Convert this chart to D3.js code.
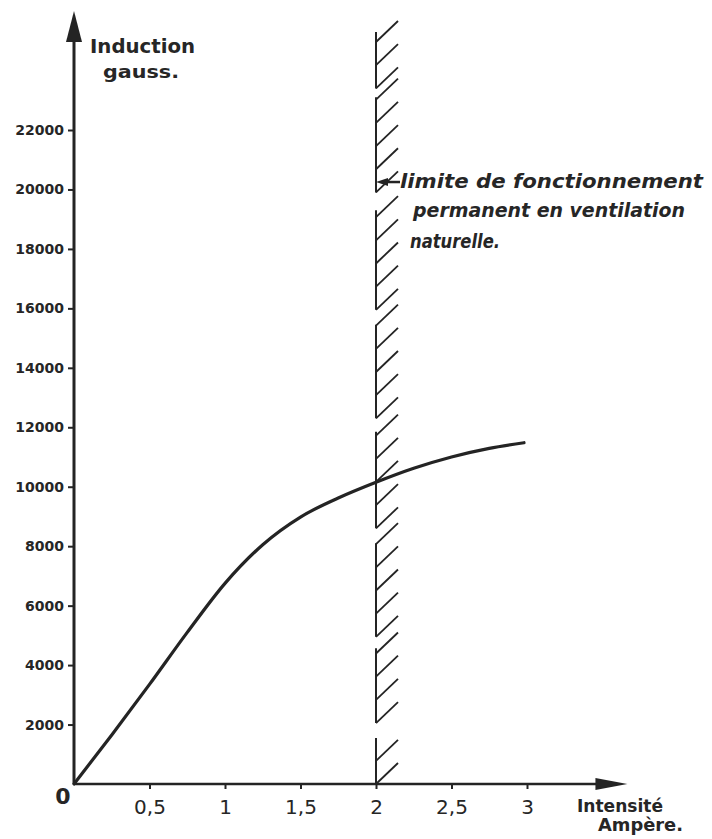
<!DOCTYPE html>
<html>
<head>
<meta charset="utf-8">
<script src="https://cdn.jsdelivr.net/npm/d3@7"></script>
<style>
  html, body { margin: 0; padding: 0; background: #fff; }
  svg { display: block; }
  text { fill: #262626; }
</style>
</head>
<body>
<div id="chart"></div>
<script>
// magnetisation curve: current (A) vs induction (gauss)
const currentA   = [0, 0.25, 0.5, 0.75, 1, 1.25, 1.5, 1.75, 2, 2.25, 2.5, 2.75, 2.98];
const inductionG = [0, 1650, 3350, 5100, 6750, 8050, 8980, 9620, 10150, 10620, 11000, 11290, 11480];

const xTicks = [0.5, 1, 1.5, 2, 2.5, 3];
const xTickLabels = ["0,5", "1", "1,5", "2", "2,5", "3"];
const yTicks = [2000, 4000, 6000, 8000, 10000, 12000, 14000, 16000, 18000, 20000, 22000];

// limit of continuous operation (natural ventilation)
const limitA = 2;
const limitSegments = [[0, 1550], [2050, 4570], [4950, 8100], [8600, 11850],
                       [12300, 15450], [15950, 19300], [19900, 23100], [23400, 25300]];
const limitArrowG = 20250;
const noteLines = ["limite de fonctionnement", "permanent en ventilation", "naturelle."];

const W = 712, H = 839;
const ink = "#242424";

const svg = d3.select("#chart").append("svg")
  .attr("width", W).attr("height", H)
  .attr("viewBox", `0 0 ${W} ${H}`);

const x = d3.scaleLinear().domain([0, 3]).range([74, 527]);
const y = d3.scaleLinear().domain([0, 22000]).range([784, 130]);

const x0 = x(0), y0 = y(0);
const yTop = y(26000), xEnd = x(3.665);

// axes lines with arrows
svg.append("line")
  .attr("x1", x0).attr("y1", y0).attr("x2", x0).attr("y2", yTop + 20)
  .attr("stroke", ink).attr("stroke-width", 3);
svg.append("path")
  .attr("d", `M${x0},${yTop} L${x0 - 8},${yTop + 31} L${x0 + 8},${yTop + 31} Z`)
  .attr("fill", ink);

svg.append("line")
  .attr("x1", x0).attr("y1", y0).attr("x2", xEnd - 20).attr("y2", y0)
  .attr("stroke", ink).attr("stroke-width", 2.5);
svg.append("path")
  .attr("d", `M${xEnd},${y0} L${xEnd - 32},${y0 - 6} L${xEnd - 32},${y0 + 6} Z`)
  .attr("fill", ink);

// y axis ticks
const yAxis = svg.append("g")
  .attr("transform", `translate(${x0},0)`)
  .call(d3.axisLeft(y).tickValues(yTicks).tickSize(6).tickPadding(4).tickFormat(d => d));
yAxis.select(".domain").remove();
yAxis.selectAll(".tick line").attr("stroke", ink).attr("stroke-width", 2);
yAxis.selectAll(".tick text")
  .attr("font-family", "DejaVu Sans")
  .attr("font-weight", "bold")
  .attr("font-size", 14)
  .attr("fill", ink);

// x axis ticks
const xAxis = svg.append("g")
  .attr("transform", `translate(0,${y0})`)
  .call(d3.axisBottom(x).tickValues(xTicks).tickSize(5).tickPadding(11)
    .tickFormat((d, i) => xTickLabels[i]));
xAxis.select(".domain").remove();
xAxis.selectAll(".tick line").attr("stroke", ink).attr("stroke-width", 2);
xAxis.selectAll(".tick text")
  .attr("font-family", "DejaVu Sans")
  .attr("font-size", 20)
  .attr("fill", ink);

svg.append("text")
  .attr("x", x0 - 11).attr("y", y0 + 20)
  .attr("text-anchor", "middle")
  .attr("font-family", "DejaVu Sans").attr("font-weight", "bold").attr("font-size", 22)
  .text("0");

// axis titles
svg.append("text")
  .attr("x", 90).attr("y", 53)
  .attr("font-family", "DejaVu Sans").attr("font-weight", "bold").attr("font-size", 19)
  .attr("textLength", 105).attr("lengthAdjust", "spacingAndGlyphs")
  .text("Induction");
svg.append("text")
  .attr("x", 103).attr("y", 78)
  .attr("font-family", "DejaVu Sans").attr("font-weight", "bold").attr("font-size", 18)
  .attr("textLength", 76).attr("lengthAdjust", "spacingAndGlyphs")
  .text("gauss.");

svg.append("text")
  .attr("x", 577).attr("y", 812)
  .attr("font-family", "DejaVu Sans").attr("font-weight", "bold").attr("font-size", 17)
  .attr("textLength", 86).attr("lengthAdjust", "spacingAndGlyphs")
  .text("Intensité");
svg.append("text")
  .attr("x", 598).attr("y", 831)
  .attr("font-family", "DejaVu Sans").attr("font-weight", "bold").attr("font-size", 17)
  .attr("textLength", 85).attr("lengthAdjust", "spacingAndGlyphs")
  .text("Ampère.");

// hatched limit line
const xl = x(limitA);
const limit = svg.append("g").attr("stroke", ink).attr("stroke-width", 2).attr("fill", "none");
limit.selectAll("line.seg")
  .data(limitSegments)
  .join("line")
  .attr("class", "seg")
  .attr("x1", xl).attr("x2", xl)
  .attr("y1", d => y(d[0])).attr("y2", d => y(d[1]));
const hatches = limitSegments.flatMap(s => d3.range(s[0], s[1], 780));
limit.selectAll("line.hatch")
  .data(hatches)
  .join("line")
  .attr("class", "hatch")
  .attr("stroke-width", 1.8)
  .attr("x1", xl).attr("y1", d => y(d))
  .attr("x2", xl + 22).attr("y2", d => y(d) - 21);

// note arrow + text
const ya = y(limitArrowG);
svg.append("line")
  .attr("x1", xl + 24).attr("y1", ya).attr("x2", xl + 8).attr("y2", ya)
  .attr("stroke", ink).attr("stroke-width", 2.5);
svg.append("path")
  .attr("d", `M${xl},${ya} L${xl + 12},${ya - 4} L${xl + 12},${ya + 4} Z`)
  .attr("fill", ink);

const noteX = [400, 413, 410];
const noteY = [188, 217, 248];
const noteLen = [303, 272, 90];
svg.selectAll("text.note")
  .data(noteLines)
  .join("text")
  .attr("class", "note")
  .attr("x", (d, i) => noteX[i]).attr("y", (d, i) => noteY[i])
  .attr("font-family", "DejaVu Sans").attr("font-weight", "bold")
  .attr("font-style", "italic").attr("font-size", 19)
  .attr("textLength", (d, i) => noteLen[i]).attr("lengthAdjust", "spacingAndGlyphs")
  .text(d => d);

// curve
const pts = currentA.map((a, i) => [a, inductionG[i]]);
svg.append("path")
  .datum(pts)
  .attr("fill", "none")
  .attr("stroke", ink)
  .attr("stroke-width", 3.2)
  .attr("stroke-linecap", "round")
  .attr("d", d3.line().x(d => x(d[0])).y(d => y(d[1])).curve(d3.curveMonotoneX));
</script>
</body>
</html>
